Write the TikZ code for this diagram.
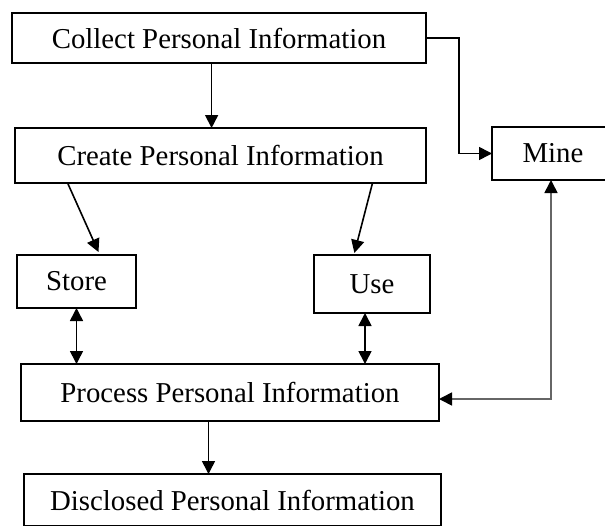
\documentclass[tikz,border=0pt]{standalone}
\usepackage{fontspec}
\setmainfont{Liberation Serif}
\usetikzlibrary{arrows.meta, positioning}

\tikzset{
  box/.style={draw, line width=0.8pt, inner sep=0pt, outer sep=0pt,
    font=\fontsize{14.4}{17}\selectfont},
  link/.style={line width=0.8pt, -{Triangle[length=6.5pt, width=6.5pt, color=black]}},
  both/.style={line width=0.8pt, {Triangle[length=6.5pt, width=6.5pt, color=black]}-{Triangle[length=6.5pt, width=6.5pt, color=black]}}
}

\begin{document}
\begin{tikzpicture}[x=0.5pt, y=-0.5pt]
\useasboundingbox (0,0) rectangle (605,525);
\clip (0,0) rectangle (605,525);
%boxes
\node[box, minimum width=207pt, minimum height=25pt] (collect) at (219,38) {Collect Personal Information};
\node[box, minimum width=205.5pt, minimum height=27.5pt] (create) at (220.5,155.5) {Create Personal Information};
\node[box, minimum width=61pt, minimum height=26.5pt] (mine) at (553,153.5) {Mine};
\node[box, minimum width=59.5pt, minimum height=26.5pt] (store) at (76.5,281.5) {Store};
\node[box, minimum width=58pt, minimum height=29pt] (use) at (372,284) {Use};
\node[box, minimum width=209pt, minimum height=28.5pt] (process) at (230,392.5) {Process Personal Information};
\node[box, minimum width=208.5pt, minimum height=26pt] (disclosed) at (232.5,500) {Disclosed Personal Information};
%arrows
\draw[link] ([xshift=-3.7pt]collect.south) -- ([xshift=-3.7pt]collect.south |- create.north);
\draw[link] (collect.east) -- ++(33,0) |- (mine.west);
\draw[link] ([xshift=26.3pt]create.south west) -- ([xshift=11pt,yshift=1.5pt]store.north);
\draw[link] ([xshift=76pt]create.south) -- ([xshift=-8.8pt,yshift=1pt]use.north);
\draw[both] (store.south) -- (store.south |- process.north);
\draw[both] ([xshift=-3.5pt]use.south) -- ([xshift=-3.5pt]use.south |- process.north);
\draw[link] ([xshift=-10.75pt]process.south) -- ([xshift=-10.75pt]process.south |- disclosed.north);
%feedback
\draw[both, black!60] ([xshift=-1pt]mine.south) |- ([yshift=-3.25pt]process.east);
\end{tikzpicture}
\end{document}
